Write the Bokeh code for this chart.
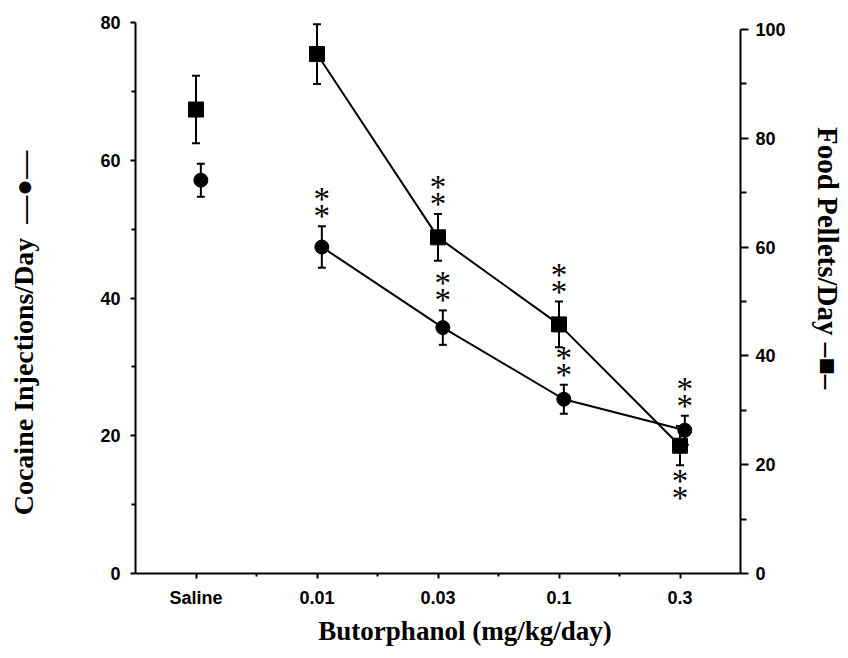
from bokeh.plotting import figure
from bokeh.models import Range1d, LinearAxis, FixedTicker, ColumnDataSource
from bokeh.embed import file_html
from bokeh.resources import INLINE
from bokeh.core.properties import value

# ---- data ----
doses = ["Saline", "0.01", "0.03", "0.1", "0.3"]
cocaine_mean = [57.1, 47.4, 35.7, 25.3, 20.8]      # left axis, circles
cocaine_sem = [2.4, 3.0, 2.5, 2.1, 2.1]
food_mean = [85.3, 95.5, 61.8, 45.8, 23.5]         # right axis, squares
food_sem = [6.2, 5.5, 4.3, 4.2, 3.6]
cocaine_sig = [False, True, True, True, True]      # "**" markers
food_sig = [False, False, True, True, True]
food_sig_below = [False, False, False, False, True]
left_ticks = [0, 20, 40, 60, 80]
left_minor = [10, 30, 50, 70]
right_ticks = [0, 20, 40, 60, 80, 100]
right_minor = [10, 30, 50, 70, 90]

NB = "\u00a0"
left_title = "Cocaine Injections/Day" + NB * 2 + "\u2014\u25cf\u2014" + NB * 10
right_title = "Food Pellets/Day" + NB + "\u2013\u25a0\u2013" + NB * 11
bottom_title = NB * 8 + "Butorphanol (mg/kg/day)"

idx = list(range(len(doses)))
circ_x = [i + 0.04 for i in idx]
sq_x = [float(i) for i in idx]

p = figure(width=846, height=654, output_backend="svg", toolbar_location=None,
           x_range=Range1d(-0.5, 4.5), y_range=Range1d(0, 80),
           min_border_left=135, min_border_right=103, min_border_top=22,
           min_border_bottom=81)
p.extra_y_ranges = {"food": Range1d(0, 101.3)}
p.grid.visible = False
p.outline_line_color = None
p.background_fill_color = "white"
p.border_fill_color = "white"


def style_axis(ax, tick_out, minor_out, label_standoff, title_standoff, title_size):
    ax.axis_line_width = 2
    ax.axis_line_color = "black"
    ax.major_tick_line_width = 2
    ax.minor_tick_line_width = 2
    ax.major_tick_line_color = "black"
    ax.minor_tick_line_color = "black"
    ax.major_tick_in = 0
    ax.minor_tick_in = 0
    ax.major_tick_out = tick_out
    ax.minor_tick_out = minor_out
    ax.major_label_text_font = "Liberation Sans"
    ax.major_label_text_font_style = "bold"
    ax.major_label_text_font_size = "18px"
    ax.major_label_text_color = "black"
    ax.major_label_standoff = label_standoff
    ax.axis_label_text_font = "Liberation Serif"
    ax.axis_label_text_font_style = "bold"
    ax.axis_label_text_font_size = title_size
    ax.axis_label_text_color = "black"
    ax.axis_label_standoff = title_standoff


xa = p.xaxis[0]
xa.ticker = FixedTicker(ticks=idx, minor_ticks=[0.5, 1.5, 2.5, 3.5])
xa.major_label_overrides = {i: d for i, d in enumerate(doses)}
xa.axis_label = bottom_title
style_axis(xa, 5, 3, 9, 5, "27px")

ya = p.yaxis[0]
ya.ticker = FixedTicker(ticks=left_ticks, minor_ticks=left_minor)
ya.bounds = (0, 80)
ya.axis_label = left_title
style_axis(ya, 5, 4, 10, 58, "28px")

ra = LinearAxis(y_range_name="food",
                ticker=FixedTicker(ticks=right_ticks, minor_ticks=right_minor),
                bounds=(0, 100), axis_label=right_title)
style_axis(ra, 8, 6, 7, 23, "29px")
p.add_layout(ra, "right")

# ---- food pellets (squares, right axis) ----
f_lo = [m - s for m, s in zip(food_mean, food_sem)]
f_hi = [m + s for m, s in zip(food_mean, food_sem)]
p.segment(x0=sq_x, y0=f_lo, x1=sq_x, y1=f_hi, line_width=2, line_color="black",
          y_range_name="food")
p.scatter(sq_x + sq_x, f_lo + f_hi, marker="dash", size=8, line_width=2,
          line_color="black", y_range_name="food")
p.line(sq_x[1:], food_mean[1:], line_width=2, line_color="black", y_range_name="food")
p.scatter(sq_x, food_mean, marker="square", size=15, fill_color="black",
          line_color="black", y_range_name="food")

# ---- cocaine injections (circles, left axis) ----
c_lo = [m - s for m, s in zip(cocaine_mean, cocaine_sem)]
c_hi = [m + s for m, s in zip(cocaine_mean, cocaine_sem)]
p.segment(x0=circ_x, y0=c_lo, x1=circ_x, y1=c_hi, line_width=2, line_color="black")
p.scatter(circ_x + circ_x, c_lo + c_hi, marker="dash", size=8, line_width=2,
          line_color="black")
p.line(circ_x[1:], cocaine_mean[1:], line_width=2, line_color="black")
p.scatter(circ_x, cocaine_mean, marker="circle", size=14, fill_color="black",
          line_color="black")

# ---- significance asterisks ----
above_offsets = [-27, -10]
below_offsets = [16, 33]

cx, cy, coff = [], [], []
for i, sig in enumerate(cocaine_sig):
    if sig:
        for o in above_offsets:
            cx.append(circ_x[i]); cy.append(c_hi[i]); coff.append(o)
fx, fy, foff = [], [], []
for i, sig in enumerate(food_sig):
    if sig:
        if food_sig_below[i]:
            for o in below_offsets:
                fx.append(sq_x[i]); fy.append(f_lo[i]); foff.append(o)
        else:
            for o in above_offsets:
                fx.append(sq_x[i]); fy.append(f_hi[i]); foff.append(o)

star_style = dict(text_font=value("Liberation Serif"), text_font_size="33px",
                  text_align="center", text_baseline="middle", text_color="black")
p.text(x="x", y="y", text=value("*"), y_offset="o",
       source=ColumnDataSource(dict(x=cx, y=cy, o=coff)), **star_style)
p.text(x="x", y="y", text=value("*"), y_offset="o", y_range_name="food",
       source=ColumnDataSource(dict(x=fx, y=fy, o=foff)), **star_style)

open("out.html", "w").write(file_html(p, INLINE))
